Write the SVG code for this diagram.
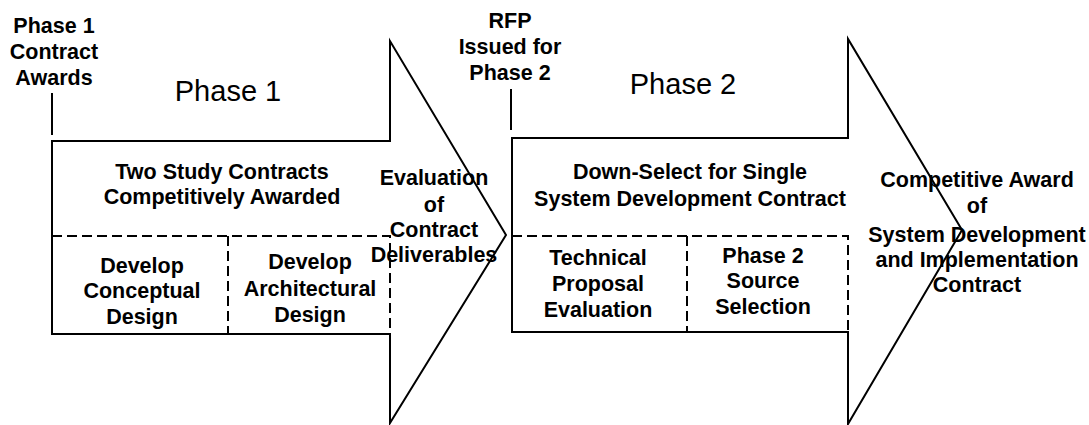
<svg xmlns="http://www.w3.org/2000/svg" width="1089" height="425" viewBox="0 0 1089 425">
<style>
.sol{fill:none;stroke:#000;stroke-width:2;stroke-linejoin:miter}
.dash{fill:none;stroke:#000;stroke-width:2;stroke-dasharray:10 5}
.tick{stroke:#000;stroke-width:2}
.b{font-family:"Liberation Sans",Arial,sans-serif;font-weight:bold;font-size:21.5px;text-anchor:middle;fill:#000}
.big{font-family:"Liberation Sans",Arial,sans-serif;font-size:29px;text-anchor:middle;fill:#000}
</style>
<rect width="1089" height="425" fill="#fff"/>
<g id="connectors">
<line class="tick" x1="52" y1="93" x2="52" y2="135"/>
<line class="tick" x1="511" y1="89" x2="511" y2="130"/>
</g>
<g id="milestone-phase1-award">
<text class="b" x="54" y="33">Phase 1</text>
<text class="b" x="54" y="59">Contract</text>
<text class="b" x="54" y="85">Awards</text>
</g>
<g id="label-phase1"><text class="big" x="228" y="101">Phase 1</text></g>
<g id="milestone-rfp">
<text class="b" x="510" y="28">RFP</text>
<text class="b" x="510" y="54">Issued for</text>
<text class="b" x="510" y="80">Phase 2</text>
</g>
<g id="label-phase2"><text class="big" x="683" y="94">Phase 2</text></g>
<g id="arrow-phase1">
<path class="sol" d="M52,141 H390 V41 L506,235 L390,423 V334 H52 Z"/>
<path class="dash" d="M52,236 H390 V334"/>
<line class="dash" x1="228" y1="236" x2="228" y2="334"/>
<text class="b" x="222" y="179">Two Study Contracts</text>
<text class="b" x="222" y="204">Competitively Awarded</text>
</g>
<g id="task-conceptual">
<text class="b" x="142" y="273">Develop</text>
<text class="b" x="142" y="298">Conceptual</text>
<text class="b" x="142" y="324">Design</text>
</g>
<g id="task-architectural">
<text class="b" x="310" y="269">Develop</text>
<text class="b" x="310" y="296">Architectural</text>
<text class="b" x="310" y="322">Design</text>
</g>
<g id="milestone-evaluation">
<text class="b" x="434" y="185">Evaluation</text>
<text class="b" x="434" y="212">of</text>
<text class="b" x="434" y="237">Contract</text>
<text class="b" x="434" y="262">Deliverables</text>
</g>
<g id="arrow-phase2">
<path class="sol" d="M512,138 H848 V39 L962,230 L848,424 V332 H512 Z"/>
<path class="dash" d="M512,236 H848 V332"/>
<line class="dash" x1="687" y1="236" x2="687" y2="332"/>
<text class="b" x="690" y="179">Down-Select for Single</text>
<text class="b" x="690" y="206">System Development Contract</text>
</g>
<g id="task-technical">
<text class="b" x="598" y="265">Technical</text>
<text class="b" x="598" y="291">Proposal</text>
<text class="b" x="598" y="317">Evaluation</text>
</g>
<g id="task-source">
<text class="b" x="763" y="263">Phase 2</text>
<text class="b" x="763" y="288">Source</text>
<text class="b" x="763" y="314">Selection</text>
</g>
<g id="milestone-award">
<text class="b" x="977" y="187">Competitive Award</text>
<text class="b" x="977" y="213">of</text>
<text class="b" x="977" y="242">System Development</text>
<text class="b" x="977" y="267">and Implementation</text>
<text class="b" x="977" y="292">Contract</text>
</g>
</svg>
